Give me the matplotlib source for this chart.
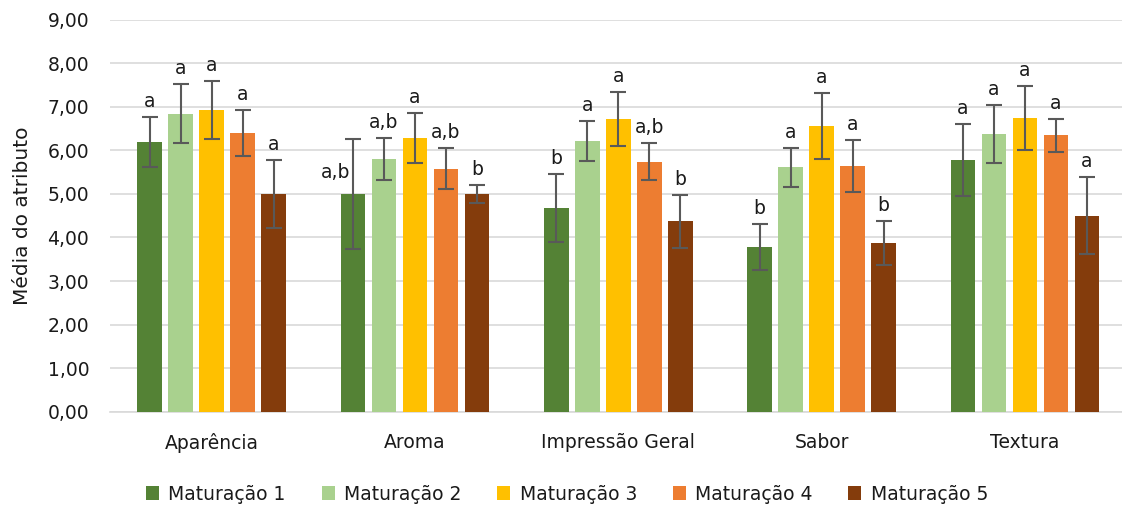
import numpy as np
import matplotlib.pyplot as plt
from matplotlib.ticker import FuncFormatter

plt.rcParams['font.family'] = ['DejaVu Sans']

categorias = ['Aparência', 'Aroma', 'Impressão Geral', 'Sabor', 'Textura']
series = ['Maturação 1', 'Maturação 2', 'Maturação 3', 'Maturação 4', 'Maturação 5']
cores = ['#548235', '#A9D18E', '#FFC000', '#ED7D31', '#843C0C']

# medias por maturacao (uma lista por serie, na ordem das categorias)
m1 = [6.19, 5.00, 4.68, 3.78, 5.78]
m2 = [6.84, 5.80, 6.21, 5.61, 6.38]
m3 = [6.93, 6.28, 6.72, 6.56, 6.75]
m4 = [6.39, 5.58, 5.74, 5.64, 6.35]
m5 = [5.00, 5.00, 4.37, 3.87, 4.50]

# desvios padrao
d1 = [0.57, 1.26, 0.78, 0.52, 0.83]
d2 = [0.68, 0.48, 0.46, 0.45, 0.67]
d3 = [0.67, 0.57, 0.62, 0.75, 0.74]
d4 = [0.53, 0.47, 0.43, 0.59, 0.38]
d5 = [0.79, 0.20, 0.60, 0.50, 0.89]

# letras do teste de medias
l1 = ['a', 'a,b', 'b', 'b', 'a']
l2 = ['a', 'a,b', 'a', 'a', 'a']
l3 = ['a', 'a', 'a', 'a', 'a']
l4 = ['a', 'a,b', 'a,b', 'a', 'a']
l5 = ['a', 'b', 'b', 'b', 'a']

medias = [m1, m2, m3, m4, m5]
desvios = [d1, d2, d3, d4, d5]
letras = [l1, l2, l3, l4, l5]

fig = plt.figure(figsize=(11.22, 5.08), dpi=100)
ax = fig.add_axes([110/1122, 1-411.7/508, 1-110/1122, (411.7-19.75)/508])

x = np.arange(len(categorias))
passo = 0.1525
larg = 0.121
for i in range(5):
    pos = x + (i - 2) * passo
    ax.bar(pos, medias[i], larg, color=cores[i], label=series[i], zorder=3)
    ax.errorbar(pos, medias[i], yerr=desvios[i], fmt='none', ecolor='#595959',
                elinewidth=1.5, capsize=5.5, capthick=1.5, zorder=4)
    for j, (p, m, d, t) in enumerate(zip(pos, medias[i], desvios[i], letras[i])):
        off = (0, 10)
        if (i, j) == (0, 1):
            # rotulo deslocado p/ esquerda da barra de erro
            off = (-17, -39)
        ax.annotate(t, (p, m + d), xytext=off, textcoords='offset pixels',
                    ha='center', va='baseline', fontsize=13.5, color='#1a1a1a', zorder=5)

ax.set_ylim(0, 9)
ax.set_yticks(np.arange(0, 10, 1))
ax.yaxis.set_major_formatter(FuncFormatter(lambda v, _: f'{v:.2f}'.replace('.', ',')))
ax.set_xlim(-0.5, 4.5 - 4.6/203.2)
ax.set_xticks(x)
ax.set_xticklabels(categorias)
ax.tick_params(axis='both', length=0, labelsize=13.5, colors='#1a1a1a')
ax.tick_params(axis='x', pad=15)
ax.tick_params(axis='y', pad=15)
ax.grid(axis='y', color='#d9d9d9', lw=1.2, zorder=0)
for s in ['top', 'right', 'left']:
    ax.spines[s].set_visible(False)
ax.spines['bottom'].set_color('#d9d9d9')
ax.spines['bottom'].set_linewidth(1.2)
ax.set_ylabel('Média do atributo', fontsize=14.5, color='#1a1a1a', labelpad=11)

fig.legend(loc='center', bbox_to_anchor=(567/1122, 1-494/508), ncol=5, frameon=False,
           fontsize=13.5, handlelength=0.7, handleheight=0.7, handletextpad=0.5,
           columnspacing=1.9, labelcolor='#1a1a1a')

fig.savefig('out.png', dpi=100)
